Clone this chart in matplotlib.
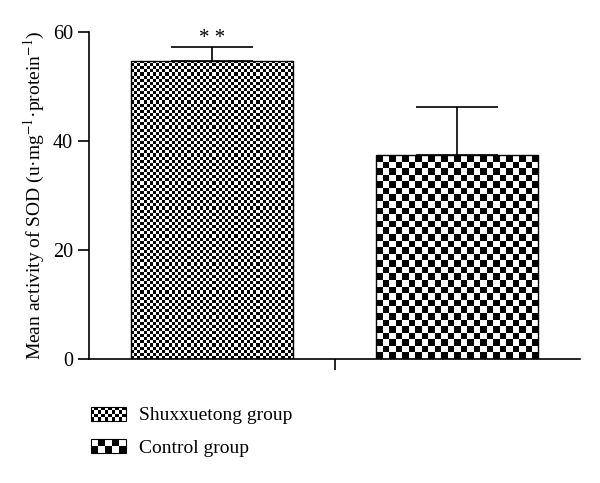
import matplotlib
matplotlib.use("Agg")
import matplotlib.pyplot as plt
import numpy as np
from matplotlib.patches import Rectangle
from matplotlib.legend_handler import HandlerBase

plt.rcParams['font.family'] = ['Liberation Serif', 'DejaVu Serif']
plt.rcParams['mathtext.fontset'] = 'stix'

groups = ['Shuxxuetong group', 'Control group']
means = [54.7, 37.4]
errors = [2.5, 8.8]
cell_px = [3.1, 6.6]     # checker cell size in pixels
legend_cells = [10, 5]   # checker cells across legend swatch


def checker(nx, ny):
    return (np.indices((ny, nx)).sum(axis=0) % 2).astype(float)


class CheckerHandler(HandlerBase):
    def create_artists(self, legend, orig_handle, xdescent, ydescent,
                       width, height, fontsize, trans):
        n = orig_handle.ncells
        cw = width / n
        rows = max(1, int(round(height / cw)))
        ch = height / rows
        arts = [Rectangle((-xdescent, -ydescent), width, height,
                          facecolor='white', edgecolor='black', lw=0.8,
                          transform=trans)]
        for i in range(n):
            for j in range(rows):
                if (i + j) % 2 == 0:
                    arts.append(Rectangle((-xdescent + i * cw, -ydescent + j * ch),
                                          cw, ch, facecolor='black',
                                          edgecolor='none', transform=trans))
        return arts


fig = plt.figure(figsize=(6, 4.83), dpi=100)
ax = fig.add_axes([89 / 600, 1 - 359 / 483, (580 - 89) / 600, (359 - 32) / 483])

x = np.arange(len(groups))
bars = ax.bar(x, means, width=0.66, color='white', edgecolor='black', lw=1.0, zorder=2)
ax.errorbar(x, means, yerr=[[0, 0], errors], fmt='none', ecolor='black',
            elinewidth=1.2, capsize=29.5, capthick=1.2, zorder=1)

ax.set_xlim(-0.5, 1.5)
ax.set_ylim(0, 60)
fig.canvas.draw()

# checkerboard fill for each bar
for b, cp in zip(bars, cell_px):
    x0, y0 = b.get_x(), b.get_y()
    w, h = b.get_width(), b.get_height()
    p0 = ax.transData.transform((x0, y0))
    p1 = ax.transData.transform((x0 + w, y0 + h))
    nx = int(round((p1[0] - p0[0]) / cp))
    ny = int(round((p1[1] - p0[1]) / cp))
    im = ax.imshow(checker(nx, ny), cmap='gray', vmin=0, vmax=1,
                   extent=(x0, x0 + w, y0, y0 + h), origin='lower',
                   interpolation='nearest', aspect='auto', zorder=2.5)
    im.set_clip_path(b)
    b.set_facecolor('none')
    b.set_zorder(3)

ax.set_xlim(-0.5, 1.5)
ax.set_ylim(0, 60)

ax.text(x[0], means[0] + errors[0] - 0.2, '* *', ha='center', va='bottom', fontsize=15)

for s in ['top', 'right']:
    ax.spines[s].set_visible(False)
for s in ['left', 'bottom']:
    ax.spines[s].set_linewidth(1.2)

ax.set_yticks([0, 20, 40, 60])
ax.set_xticks([0.5])
ax.set_xticklabels([''])
ax.tick_params(axis='both', direction='out', length=8, width=1.2, labelsize=14.5)
ax.set_ylabel('Mean activity of SOD (u·mg$^{-1}$·protein$^{-1}$)', fontsize=14, labelpad=4)

handles = []
for n in legend_cells:
    h = Rectangle((0, 0), 1, 1)
    h.ncells = n
    handles.append(h)
fig.legend(handles, groups, handler_map={Rectangle: CheckerHandler()},
           loc='upper left', bbox_to_anchor=(73 / 600, 1 - 389 / 483),
           frameon=False, fontsize=14, handlelength=1.8, handleheight=0.75,
           handletextpad=0.7, labelspacing=0.75)

fig.savefig('out.png', dpi=100)
